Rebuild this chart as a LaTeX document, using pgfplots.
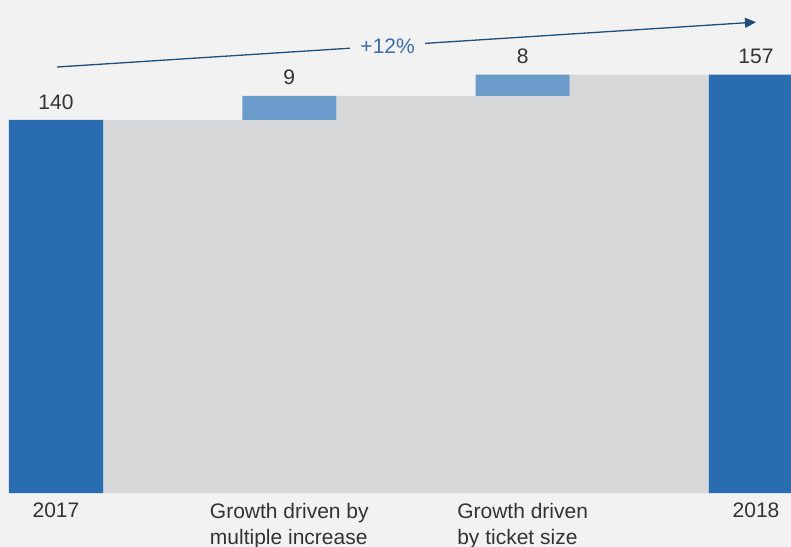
\documentclass[border=0pt]{standalone}
\usepackage{pgfplots}
\pgfplotsset{compat=1.18}
\usetikzlibrary{arrows.meta}
\usepackage{fontspec}
\setmainfont{Liberation Sans}

\definecolor{bgc}{HTML}{F2F2F2}
\definecolor{darkbar}{HTML}{2A6CB0}
\definecolor{lightbar}{HTML}{6A9BCB}
\definecolor{greyarea}{HTML}{D7D8DA}
\definecolor{arrowc}{HTML}{1F4E79}
\definecolor{txt}{HTML}{333333}
\definecolor{pct}{HTML}{3A6EA5}

\pgfplotsset{
    base/.style={
        width=791bp, height=547bp, scale only axis,
        at={(0,0)}, anchor=south west,
        xmin=-0.24, xmax=3.15,
        ymin=-20.26, ymax=185,
        axis lines=none, xtick=\empty, ytick=\empty,
    },
}

\begin{document}
\begin{tikzpicture}[font=\fontsize{21bp}{26bp}\selectfont]
\fill[bgc] (0,0) rectangle (791bp,547bp);

% grey staircase and the two totals
\begin{axis}[base]
    \addplot[fill=greyarea, draw=none] coordinates {
        (0.2015,0) (0.2015,140) (1.2015,140) (1.2015,149)
        (2.2015,149) (2.2015,157) (2.7985,157) (2.7985,0)
    } -- cycle;
    \addplot[ybar, bar width=0.403, fill=darkbar, draw=none]
        coordinates {(0,140) (3,157)};
\end{axis}

% floating increments
\begin{axis}[base, ybar stacked, bar width=0.403]
    \addplot[fill=none, draw=none] coordinates {(1,140) (2,149)};
    \addplot[fill=lightbar, draw=none] coordinates {(1,9) (2,8)};

    % value labels
    \node[text=txt] at (axis cs:0,146.8) {140};
    \node[text=txt] at (axis cs:1,155.9) {9};
    \node[text=txt] at (axis cs:2,163.8) {8};
    \node[text=txt] at (axis cs:3,163.8) {157};

    % category labels
    \node[text=txt, anchor=north, inner sep=0pt] at (axis cs:0,-3.6) {2017};
    \node[text=txt, anchor=north, inner sep=0pt, align=left] at (axis cs:1,-3.6)
        {Growth driven by\\multiple increase};
    \node[text=txt, anchor=north, inner sep=0pt, align=left] at (axis cs:2,-3.6)
        {Growth driven\\by ticket size};
    \node[text=txt, anchor=north, inner sep=0pt] at (axis cs:3,-3.6) {2018};

    % growth arrow
    \draw[arrowc, line width=1.3bp, -{Triangle[length=11bp,width=10bp]}]
        (axis cs:0.0043,159.85) --
        node[pos=0.473, fill=bgc, text=pct, inner xsep=10bp, inner ysep=2bp] {+12\%}
        (axis cs:3,176.7);

    \coordinate (sw) at (rel axis cs:0,0);
    \coordinate (ne) at (rel axis cs:1,1);
\end{axis}

\pgfresetboundingbox
\path[use as bounding box] (sw) rectangle (ne);
\end{tikzpicture}
\end{document}
